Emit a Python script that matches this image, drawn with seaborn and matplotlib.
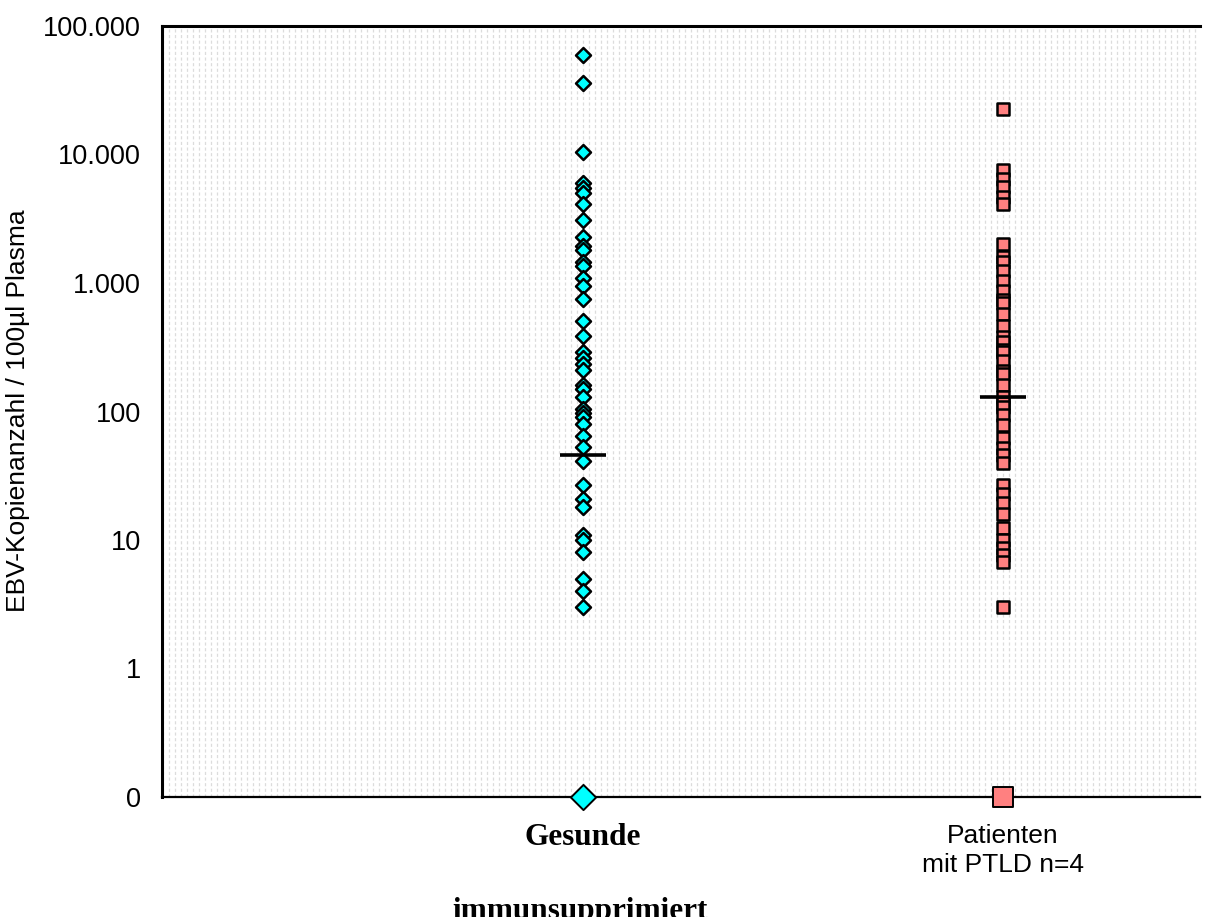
import numpy as np
import pandas as pd
import matplotlib
matplotlib.use("Agg")
import matplotlib.pyplot as plt
import matplotlib.transforms as mtransforms
from matplotlib.ticker import MultipleLocator, FixedLocator, NullLocator
import seaborn as sns

# EBV copies per 100 µl plasma (0 = below detection)
gesunde = [60000, 36000, 10400, 6000, 5500, 5000, 4100, 3100, 2300, 1950, 1800,
           1450, 1350, 1100, 950, 750, 510, 390, 290, 260, 235, 210, 160, 150,
           130, 105, 98, 90, 80, 65, 53, 41, 27, 21, 18, 11, 10, 8, 5, 4, 3, 0]
patienten = [22800, 7600, 6500, 5600, 4700, 4100, 2000, 1600, 1450, 1230, 1030,
             860, 740, 700, 570, 460, 380, 350, 300, 290, 245, 205, 195, 160,
             130, 117, 109, 94, 79, 62, 52, 46, 40, 27, 23, 19.5, 16, 12.5, 10,
             8.7, 7.7, 6.8, 3, 0]
medians = {"Gesunde": 46, "Patienten": 130}

groups = ["Gesunde", "Patienten"]
ytick_values = [0.1, 1, 10, 100, 1000, 10000, 100000]
ytick_labels = ["0", "1", "10", "100", "1.000", "10.000", "100.000"]
y_label = "EBV-Kopienanzahl / 100µl Plasma"
group_title = "immunsupprimiert"

df = pd.concat([
    pd.DataFrame({"gruppe": "Gesunde", "wert": gesunde}),
    pd.DataFrame({"gruppe": "Patienten", "wert": patienten}),
], ignore_index=True)
df["pos"] = df["gruppe"].map({g: i for i, g in enumerate(groups)})
floor = ytick_values[0]
df["plotwert"] = df["wert"].where(df["wert"] > 0, floor)

sns.set_style("white")
plt.rcParams["font.family"] = ["Liberation Sans", "DejaVu Sans"]
plt.rcParams["text.color"] = "black"
plt.rcParams["xtick.color"] = "black"
plt.rcParams["ytick.color"] = "black"

fig = plt.figure(figsize=(12.15, 9.17), dpi=100)
ax = fig.add_axes([162 / 1215, 1 - 797 / 917, (1200 - 162) / 1215, (797 - 26) / 917])

styles = {
    "Gesunde": dict(marker="D", color="#00FFFF", s=58, s0=165),
    "Patienten": dict(marker="s", color="#FF8080", s=82, s0=200),
}
for g in groups:
    st = styles[g]
    sub = df[(df["gruppe"] == g) & (df["wert"] > 0)]
    sns.scatterplot(data=sub, x="pos", y="plotwert", marker=st["marker"],
                    color=st["color"], s=st["s"], edgecolor="black",
                    linewidth=1.8, ax=ax, zorder=3, legend=False)
    zero = df[(df["gruppe"] == g) & (df["wert"] == 0)]
    sns.scatterplot(data=zero, x="pos", y="plotwert", marker=st["marker"],
                    color=st["color"], s=st["s0"], edgecolor="black",
                    linewidth=1.4, ax=ax, zorder=5, clip_on=False, legend=False)

# median bars
for i, g in enumerate(groups):
    ax.hlines(medians[g], i - 0.054, i + 0.054, color="black", linewidth=2.6, zorder=4)

ax.set_yscale("log")
ax.set_ylim(ytick_values[0], ytick_values[-1])
ax.set_xlim(-1.0024, 1.469)
ax.yaxis.set_major_locator(FixedLocator(ytick_values))
ax.yaxis.set_minor_locator(NullLocator())
ax.set_yticklabels(ytick_labels, fontsize=19.5)
ax.tick_params(axis="y", direction="out", length=7, width=1.6, pad=8, colors="black")

ax.set_xticks([])
ax.xaxis.set_minor_locator(MultipleLocator(1 / 70))
ax.tick_params(axis="x", which="minor", length=0)
ax.grid(which="minor", axis="x", color="#dcdcdc", linestyle=(0, (2.5, 2)), linewidth=0.9)
ax.set_axisbelow(True)

ax.set_xlabel("")
ax.set_ylabel("")
for side in ["left", "top", "bottom"]:
    ax.spines[side].set_visible(True)
    ax.spines[side].set_color("black")
ax.spines["left"].set_linewidth(2.2)
ax.spines["top"].set_linewidth(2.2)
ax.spines["bottom"].set_linewidth(1.6)
ax.spines["right"].set_visible(False)

trans = mtransforms.blended_transform_factory(ax.transData, ax.transAxes)
ax.text(0, (797 - 845) / 771, "Gesunde", transform=trans, ha="center", va="baseline",
        fontsize=22.5, fontweight="bold", family=["Liberation Serif", "DejaVu Serif"])
ax.text(1, (797 - 843) / 771, "Patienten", transform=trans, ha="center", va="baseline",
        fontsize=19)
ax.text(1, (797 - 872) / 771, "mit PTLD n=4", transform=trans, ha="center", va="baseline",
        fontsize=19)

fig.text(580 / 1215, 1 - 897 / 917, group_title, ha="center", va="top",
         fontsize=22.5, fontweight="bold", family=["Liberation Serif", "DejaVu Serif"])
fig.text(18 / 1215, 1 - 411 / 917, y_label, rotation=90, ha="center", va="center",
         fontsize=19)

fig.savefig("out.png", dpi=100, facecolor="white")
